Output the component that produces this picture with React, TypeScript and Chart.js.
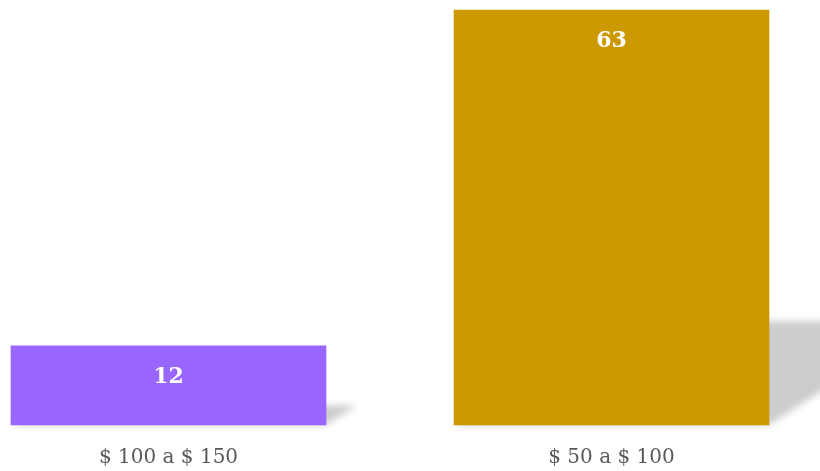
import React, { useEffect, useRef } from "react";
import { Chart, registerables } from "chart.js";

Chart.register(...registerables);

const categories = ["$ 100 a $ 150", "$ 50 a $ 100"];
const values = [12, 63];
const barColors = ["#9966FF", "#CC9900"];
const yMax = 63;

const FONT = "'DejaVu Serif', 'Liberation Serif', serif";

const shadowPlugin = {
  id: "perspectiveShadow",
  beforeDatasetsDraw(chart: any) {
    const ctx = chart.ctx;
    const meta = chart.getDatasetMeta(0);
    ctx.save();
    ctx.filter = "blur(3.5px)";
    ctx.fillStyle = "rgba(0,0,0,0.2)";
    meta.data.forEach((bar: any) => {
      const { x, y, base, width } = bar.getProps(["x", "y", "base", "width"], true);
      const h = base - y;
      const sh = h * 0.25;
      const dx = sh * 1.55;
      const l = x - width / 2;
      const r = x + width / 2;
      ctx.beginPath();
      ctx.moveTo(l, base);
      ctx.lineTo(r, base);
      ctx.lineTo(r + dx, base - sh);
      ctx.lineTo(l + dx, base - sh);
      ctx.closePath();
      ctx.fill();
    });
    ctx.restore();
  },
};

const valueLabelPlugin = {
  id: "valueLabels",
  afterDatasetsDraw(chart: any) {
    const ctx = chart.ctx;
    const meta = chart.getDatasetMeta(0);
    ctx.save();
    ctx.fillStyle = "#ffffff";
    ctx.font = `bold 22px ${FONT}`;
    ctx.textAlign = "center";
    ctx.textBaseline = "middle";
    meta.data.forEach((bar: any, i: number) => {
      const { x, y } = bar.getProps(["x", "y"], true);
      ctx.fillText(String(values[i]), x, y + 31);
    });
    ctx.restore();
  },
};

export default function App() {
  const ref = useRef<HTMLCanvasElement | null>(null);
  useEffect(() => {
    if (!ref.current) return;
    const chart = new Chart(ref.current, {
      type: "bar",
      data: {
        labels: categories,
        datasets: [
          {
            data: values,
            backgroundColor: barColors,
            borderWidth: 0,
            barThickness: 315,
            clip: false as any,
          },
        ],
      },
      options: {
        animation: false,
        responsive: false,
        maintainAspectRatio: false,
        layout: { padding: { left: 168.5, right: 208.5, top: 10, bottom: 0 } },
        plugins: { legend: { display: false }, tooltip: { enabled: false } },
        scales: {
          x: {
            offset: false,
            grid: { display: false, drawTicks: false },
            border: { display: false },
            afterFit: (scale: any) => {
              scale.height = 46;
            },
            ticks: {
              color: "#595959",
              font: { family: FONT, size: 20 },
              padding: 21,
              maxRotation: 0,
              autoSkip: false,
            },
          },
          y: {
            display: false,
            min: 0,
            max: yMax,
          },
        },
      },
      plugins: [shadowPlugin, valueLabelPlugin],
    });
    return () => chart.destroy();
  }, []);
  return (
    <div style={{ position: "absolute", left: 0, top: 0, width: 820, height: 471, background: "#fff" }}>
      <canvas ref={ref} width={820} height={471} style={{ width: 820, height: 471 }} />
    </div>
  );
}
